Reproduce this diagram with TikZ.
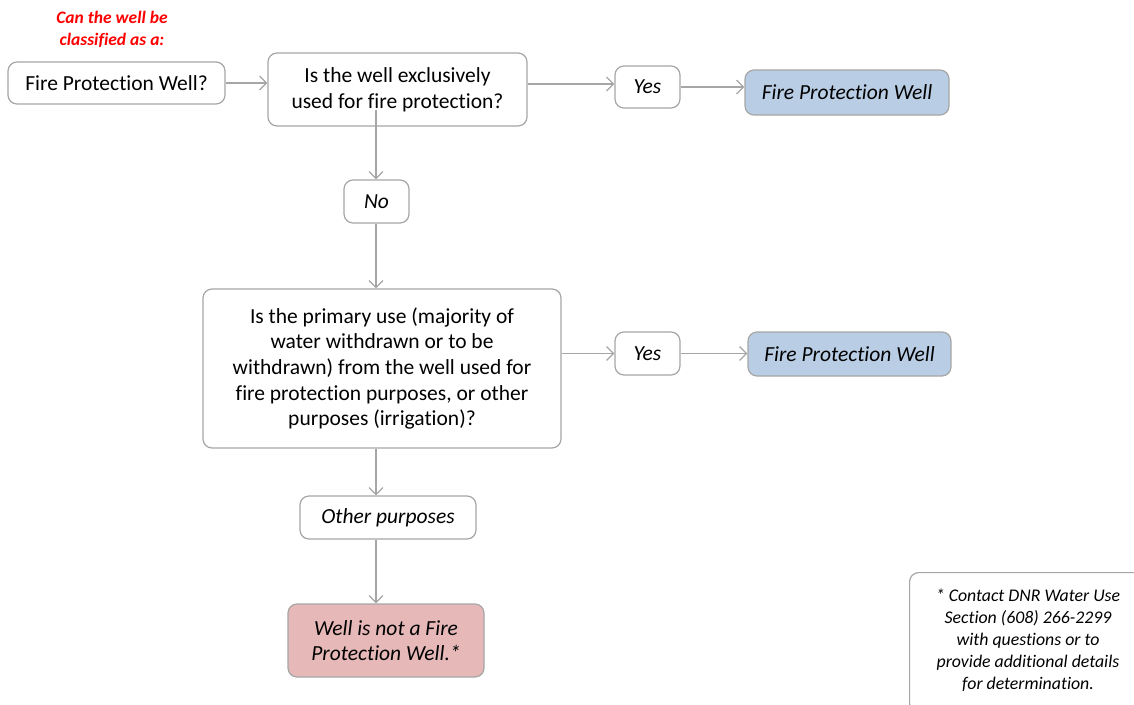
\documentclass[tikz,border=0pt]{standalone}
\usepackage{fontspec}
\setmainfont{Carlito}[Ligatures={NoCommon}]
\usetikzlibrary{arrows.meta}
\definecolor{edge}{HTML}{A6A6A6}
\definecolor{bluefill}{HTML}{B9CDE5}
\definecolor{pinkfill}{HTML}{E6B9B8}
\definecolor{redtxt}{HTML}{FF0000}
\tikzset{
  box/.style={draw=edge, line width=1.2pt, rounded corners=9pt, fill=white, align=center, inner sep=0pt, font=\fontsize{21.5}{25.7}\selectfont},
  ibox/.style={box, font=\fontsize{21.5}{25.7}\selectfont\itshape},
  conn/.style={draw=edge, line width=1.2pt, -{Straight Barb[length=7pt,width=14pt,line width=1.2pt]}},
}
\begin{document}
\begin{tikzpicture}[x=1pt,y=-1pt]
\useasboundingbox (0,0) rectangle (1134,704);
\node[font=\fontsize{17.5}{22}\selectfont\bfseries\itshape, text=redtxt, align=center] (title) at (112,29.5) {Can the well be\\classified as a:};
\node[box, minimum width=217pt, minimum height=42pt] (a) at (116.5,83) {Fire Protection Well?};
\node[box, minimum width=259pt, minimum height=73pt] (b) at (397.5,89.5) {Is the well exclusively\\used for fire protection?};
\node[ibox, minimum width=65pt, minimum height=42pt] (yes1) at (647.5,87) {Yes};
\node[ibox, fill=bluefill, minimum width=204pt, minimum height=45pt] (fpw1) at (847,92.5) {Fire Protection Well};
\node[ibox, minimum width=65pt, minimum height=43pt] (no) at (376.5,201.5) {No};
\node[box, minimum width=358pt, minimum height=159pt] (c) at (382,368.5) {Is the primary use (majority of\\water withdrawn or to be\\withdrawn) from the well used for\\fire protection purposes, or other\\purposes (irrigation)?};
\node[ibox, minimum width=65pt, minimum height=43pt] (yes2) at (647.5,353.5) {Yes};
\node[ibox, fill=bluefill, minimum width=203pt, minimum height=44pt] (fpw2) at (849.5,354) {Fire Protection Well};
\node[ibox, minimum width=176pt, minimum height=43pt] (other) at (388,517.5) {Other purposes};
\node[ibox, fill=pinkfill, minimum width=196pt, minimum height=73pt] (not) at (386,640.5) {Well is not a Fire\\Protection Well.*};
\node[box, minimum width=240pt, minimum height=140pt, anchor=north west] (note) at (909,572) {};
\node[font=\fontsize{17.8}{22}\selectfont\itshape, align=center] (notetxt) at (1028,640) {* Contact DNR Water Use\\Section (608) 266-2299\\with questions or to\\provide additional details\\for determination.};
\coordinate (bstart) at (376,110);
\draw[conn] (a.east) -- (b.west |- a.east);
\draw[conn] (b.east |- 0,84) -- (yes1.west |- 0,84);
\draw[conn] (yes1.east) -- (fpw1.west |- yes1.east);
\draw[conn] (bstart) -- (no.north -| bstart);
\draw[conn] (no.south -| bstart) -- (c.north -| bstart);
\draw[conn] (c.east |- yes2.west) -- (yes2.west);
\draw[conn] (yes2.east) -- (fpw2.west |- yes2.east);
\draw[conn] (c.south -| bstart) -- (other.north -| bstart);
\draw[conn] (other.south -| bstart) -- (not.north -| bstart);
\end{tikzpicture}
\end{document}
